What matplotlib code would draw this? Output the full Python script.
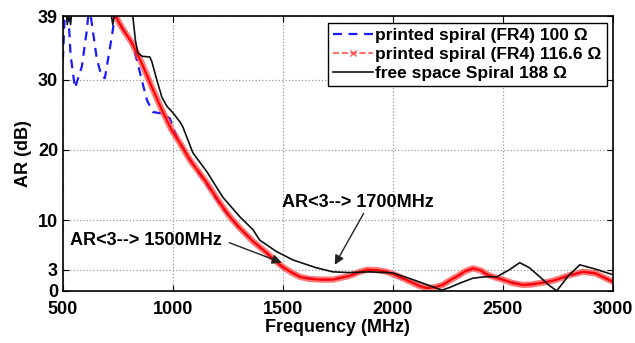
import numpy as np
import matplotlib.pyplot as plt
from matplotlib.lines import Line2D
import matplotlib.patheffects as pe

plt.rcParams['font.family'] = ['Liberation Sans', 'DejaVu Sans']
plt.rcParams['font.weight'] = 'bold'
plt.rcParams['axes.labelweight'] = 'bold'

# printed spiral (FR4) 100 ohm
f_blue = [500, 509, 523, 535, 555, 586, 609, 620, 636, 655, 677, 691, 705, 727, 736,
          768, 814, 836, 859, 882, 909, 945, 986, 1023, 1060, 1091,
          1155, 1227, 1305, 1427, 1500, 1577, 1668, 1727, 1800, 1882, 1973, 2080,
          2155, 2227, 2300, 2364, 2430, 2500, 2591, 2668, 2745, 2864, 2920, 3000]
ar_blue = [32.8, 39.5, 40.5, 33.5, 28.8, 31.8, 37.0, 40.5, 37.0, 32.8, 30.4, 30.2, 32.8, 37.0, 39.2,
           37.4, 35.2, 32.8, 29.9, 27.1, 25.4, 25.2, 24.5, 21.4, 19.6, 18.0,
           15.1, 11.7, 8.8, 5.3, 3.3, 2.0, 1.6, 1.6, 2.1, 3.0, 2.7, 1.3,
           0.4, 0.85, 2.2, 3.2, 2.3, 1.6, 0.85, 1.1, 1.6, 2.7, 2.5, 1.3]

# printed spiral (FR4) 116.6 ohm
f_red = [736, 768, 814, 859, 905, 950, 995, 1032, 1077, 1115, 1155, 1190, 1227, 1265, 1305,
         1365, 1427, 1465, 1500, 1540, 1577, 1620, 1668, 1727, 1800, 1850, 1882, 1930,
         1973, 2030, 2080, 2120, 2155, 2190, 2227, 2260, 2300, 2330, 2364, 2400, 2430,
         2465, 2500, 2545, 2591, 2630, 2668, 2710, 2745, 2800, 2864, 2920, 2960, 3000]
ar_red = [39.2, 37.4, 35.2, 32.3, 28.9, 25.7, 22.8, 21.0, 18.6, 17.0, 15.3, 13.6, 11.9, 10.3, 8.9,
          7.0, 5.4, 4.3, 3.4, 2.6, 2.0, 1.7, 1.6, 1.6, 2.1, 2.7, 3.0, 2.95,
          2.7, 2.0, 1.3, 0.7, 0.4, 0.5, 0.85, 1.5, 2.2, 2.8, 3.2, 2.9, 2.3,
          1.9, 1.6, 1.1, 0.85, 0.9, 1.1, 1.3, 1.6, 2.2, 2.7, 2.5, 1.9, 1.3]

# free space spiral 188 ohm
f_black = [500, 515, 520, 527, 535, 545, 600, 700, 720, 727, 735, 760, 810, 818, 830, 841,
           860, 895, 905, 923, 950, 973, 1000, 1032, 1045, 1091, 1155, 1227, 1305, 1364,
           1395, 1470, 1545, 1650, 1727, 1800, 1895, 2000, 2100, 2180, 2223, 2260, 2305,
           2364, 2420, 2473, 2530, 2577, 2620, 2668, 2710, 2745, 2800, 2850, 2920, 3000]
ar_black = [45, 40, 37.8, 39.5, 37.8, 41, 48, 42, 39.2, 37.8, 39.3, 45, 40, 39, 35.5, 33.8,
            33.3, 33.2, 32.5, 30.4, 27.5, 26.2, 25.3, 24.0, 23.3, 19.6, 16.9, 13.3, 10.5, 8.7,
            7.2, 5.6, 4.4, 3.3, 2.7, 2.6, 2.7, 2.55, 1.5, 0.6, 0.1, 0.5, 1.1,
            1.8, 2.0, 2.0, 3.0, 4.0, 3.3, 2.0, 0.8, 0.0, 2.2, 3.7, 3.1, 2.3]

xticks = [500, 1000, 1500, 2000, 2500, 3000]
yticks = [0, 3, 10, 20, 30, 39]

fig = plt.figure(figsize=(6.35, 3.43), dpi=100)
ax = fig.add_axes([0.099, 0.152, 0.866, 0.801])

ax.plot(f_blue, ar_blue, '--', color='#1a1aff', lw=1.6, dashes=(4, 3))
ax.plot(f_red, ar_red, '-', color='red', lw=1.5,
        path_effects=[pe.Stroke(linewidth=4.5, foreground='#ff4040', alpha=0.7), pe.Normal()])
ax.plot(f_black, ar_black, '-', color='#111111', lw=1.2)

ax.set_xlim(500, 3000)
ax.set_ylim(0, 39)
ax.set_xticks(xticks)
ax.set_yticks(yticks)
ax.tick_params(direction='in', top=True, right=True, labelsize=13, length=4)
ax.tick_params(axis='x', pad=7)
ax.grid(True, linestyle=':', color='#999999', linewidth=0.9)
for s in ax.spines.values():
    s.set_linewidth(1.2)

ax.set_xlabel('Frequency (MHz)', fontsize=13, labelpad=1)
ax.set_ylabel('AR (dB)', fontsize=13, labelpad=4)

ax.annotate('AR<3--> 1500MHz', xy=(1495, 4.0), xytext=(532, 7.2), fontsize=13,
            va='center', ha='left',
            arrowprops=dict(arrowstyle='-|>', color='#222222', lw=1.0, mutation_scale=14,
                            shrinkA=0, shrinkB=0, relpos=(1.05, 0.35)))
ax.annotate('AR<3--> 1700MHz', xy=(1736, 3.7), xytext=(1495, 12.6), fontsize=13,
            va='center', ha='left',
            arrowprops=dict(arrowstyle='-|>', color='#222222', lw=1.0, mutation_scale=14,
                            shrinkA=0, shrinkB=0, relpos=(0.55, 0.0)))

handles = [Line2D([], [], color='#1a1aff', ls='--', lw=1.6, dashes=(4, 3)),
           Line2D([], [], color='#ff5555', ls='--', lw=1.2, marker='x', markersize=4,
                  markevery=[1]),
           Line2D([], [], color='#111111', lw=1.2)]
labels = ['printed spiral (FR4) 100 \u03a9', 'printed spiral (FR4) 116.6 \u03a9',
          'free space Spiral 188 \u03a9']
leg = ax.legend(handles, labels, loc='upper right', bbox_to_anchor=(0.989, 0.975),
                borderaxespad=0, fontsize=12.5, fancybox=False, framealpha=1,
                edgecolor='black', handlelength=2.3, handletextpad=0.1,
                labelspacing=0.2, borderpad=0.3)
leg.get_frame().set_linewidth(1.0)

fig.savefig('out.png', dpi=100)
